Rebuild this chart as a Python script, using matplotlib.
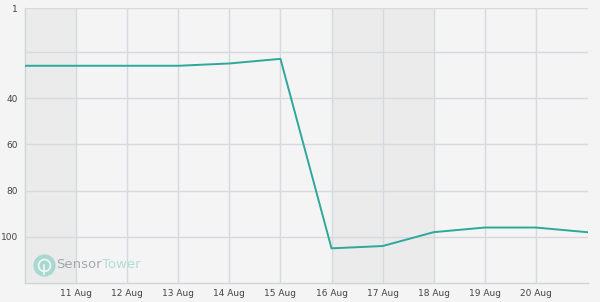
import matplotlib
matplotlib.use("Agg")
import matplotlib.pyplot as plt
from matplotlib.lines import Line2D
import numpy as np

days = [10, 11, 12, 13, 14, 15, 16, 17, 18, 19, 20, 21]
ranks = [26, 26, 26, 26, 25, 23, 105, 104, 98, 96, 96, 98]
xtick_days = [11, 12, 13, 14, 15, 16, 17, 18, 19, 20]
xtick_labels = ["11 Aug", "12 Aug", "13 Aug", "14 Aug", "15 Aug", "16 Aug",
                "17 Aug", "18 Aug", "19 Aug", "20 Aug"]
ytick_vals = [1, 20, 40, 60, 80, 100]
ytick_labels = ["1", "", "40", "60", "80", "100"]
weekends = [(10, 11), (16, 18)]

bg = "#f4f4f4"
fig = plt.figure(figsize=(6.0, 3.02), dpi=100, facecolor=bg)
ax = fig.add_axes([25/600, 1-283/302, (588-25)/600, (283-8)/302])
ax.set_facecolor(bg)

for a, b in weekends:
    ax.axvspan(a, b, color="#ebebeb", zorder=0, lw=0)

ax.plot(days, ranks, color="#2ea899", lw=1.4, zorder=3)

ax.set_xlim(10, 21.02)
ax.set_ylim(120, 1)
ax.set_xticks(xtick_days)
ax.set_xticklabels(xtick_labels)
ax.set_yticks(ytick_vals)
ax.set_yticklabels(ytick_labels)
ax.grid(True, color="#d6d9dd", lw=1.0, zorder=1)
ax.set_axisbelow(True)
for s in ["top", "right"]:
    ax.spines[s].set_visible(False)
for s in ["left", "bottom"]:
    ax.spines[s].set_color("#d0d4d9")
    ax.spines[s].set_linewidth(1.0)
ax.tick_params(length=0, labelsize=6.5, colors="#444444", pad=4)
ax.tick_params(axis="y", pad=5)

# watermark
cx, cy = 44/600, 1-265/302
fig.add_artist(Line2D([cx], [cy], marker="o", markersize=16, color="#a8d8d0",
                      markeredgewidth=0, transform=fig.transFigure, zorder=5))
fig.add_artist(Line2D([cx], [cy], marker="o", markersize=8.5, markerfacecolor="none",
                      markeredgecolor="#f0f7f6", markeredgewidth=1.2,
                      transform=fig.transFigure, zorder=6))
fig.add_artist(Line2D([cx, cx], [cy, cy - 9/302], color="#f0f7f6", lw=1.2,
                      transform=fig.transFigure, zorder=6))
t1 = fig.text(56/600, cy, "Sensor", fontsize=9.5, color="#a3a8ab",
              va="center", ha="left", zorder=6)
fig.canvas.draw()
bb = t1.get_window_extent(fig.canvas.get_renderer())
fig.text(bb.x1 / fig.bbox.width, cy, "Tower", fontsize=9.5, color="#b2ddd6",
         va="center", ha="left", zorder=6)

fig.savefig("out.png", dpi=100, facecolor=bg)
